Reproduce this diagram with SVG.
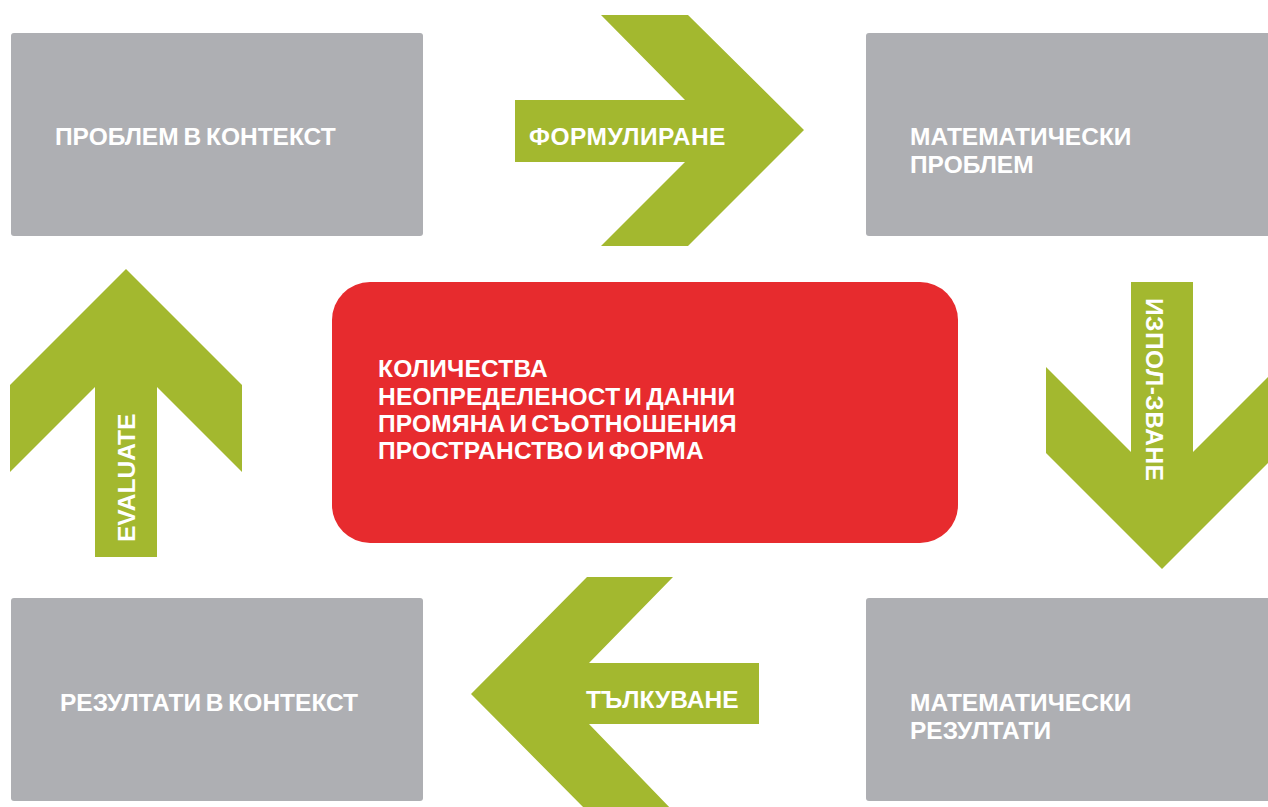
<svg xmlns="http://www.w3.org/2000/svg" width="1268" height="807" viewBox="0 0 1268 807">
  <style>
    .box { fill: #AEAFB3; }
    .arrow { fill: #A3B82F; }
    .core { fill: #E72B2E; }
    .lbl { font-family: "Liberation Sans", Arial, sans-serif; font-weight: bold; font-size: 24.5px; fill: #FFFFFF; word-spacing: -2px; }
    .tight { word-spacing: -3px; letter-spacing: 0.2px; }
    .wide { letter-spacing: 0.5px; }
  </style>
  <rect width="1268" height="807" fill="#FFFFFF"/>

  <!-- process stages -->
  <g id="node-problem-context">
    <rect class="box" x="11" y="33" width="412" height="203" rx="3"/>
    <text class="lbl" x="55" y="145">ПРОБЛЕМ В КОНТЕКСТ</text>
  </g>
  <g id="node-math-problem">
    <rect class="box" x="866" y="33" width="410" height="203" rx="3"/>
    <text class="lbl" x="910" y="145">МАТЕМАТИЧЕСКИ</text>
    <text class="lbl" x="910" y="173">ПРОБЛЕМ</text>
  </g>
  <g id="node-math-results">
    <rect class="box" x="866" y="598" width="410" height="203" rx="3"/>
    <text class="lbl" x="910" y="711">МАТЕМАТИЧЕСКИ</text>
    <text class="lbl" x="910" y="739">РЕЗУЛТАТИ</text>
  </g>
  <g id="node-results-context">
    <rect class="box" x="11" y="598" width="412" height="203" rx="3"/>
    <text class="lbl" x="60" y="711">РЕЗУЛТАТИ В КОНТЕКСТ</text>
  </g>

  <!-- content areas -->
  <g id="node-content">
    <rect class="core" x="332" y="282" width="626" height="261" rx="38"/>
    <text class="lbl tight" x="378" y="377">КОЛИЧЕСТВА</text>
    <text class="lbl tight" x="378" y="405">НЕОПРЕДЕЛЕНОСТ И ДАННИ</text>
    <text class="lbl tight" x="378" y="432">ПРОМЯНА И СЪОТНОШЕНИЯ</text>
    <text class="lbl tight" x="378" y="459">ПРОСТРАНСТВО И ФОРМА</text>
  </g>

  <!-- block arrows between stages -->
  <g id="connectors">
    <g id="arrow-formulate">
      <polygon class="arrow" points="515,100 685,100 601,15 688,15 804,130 688,246 601,246 685,162 515,162"/>
      <text class="lbl wide" x="529" y="145">ФОРМУЛИРАНЕ</text>
    </g>
    <g id="arrow-employ">
      <polygon class="arrow" points="1131,282 1193,282 1193,452 1278,367 1278,453 1162,569 1046,453 1046,367 1131,452"/>
      <text class="lbl wide" transform="translate(1146,298) rotate(90)">ИЗПОЛ-ЗВАНЕ</text>
    </g>
    <g id="arrow-interpret">
      <polygon class="arrow" points="759,663 589,663 673,577 587,577 471,694 587,811 673,811 589,724 759,724"/>
      <text class="lbl" x="586" y="708">ТЪЛКУВАНЕ</text>
    </g>
    <g id="arrow-evaluate">
      <polygon class="arrow" points="126,269 242,385 242,472 157,387 157,557 95,557 95,387 10,472 10,385"/>
      <text class="lbl" transform="translate(135,542) rotate(-90)">EVALUATE</text>
    </g>
  </g>
</svg>
